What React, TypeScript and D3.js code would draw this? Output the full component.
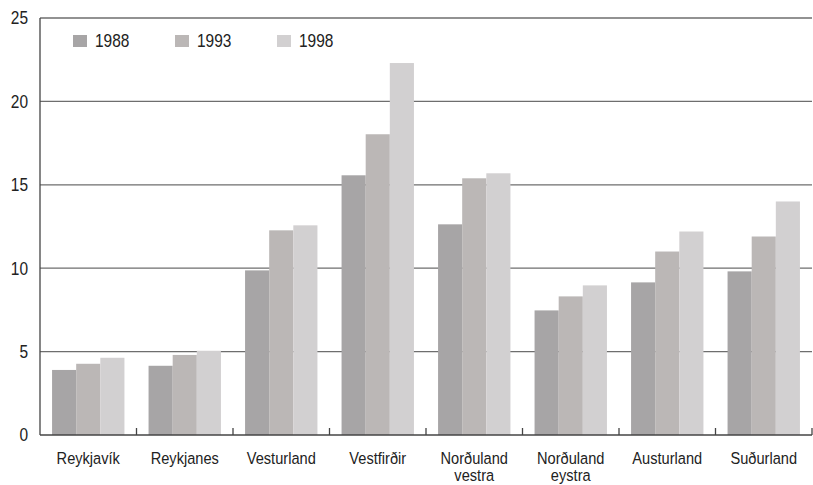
import { useMemo } from "react";
import * as d3 from "d3";

const WIDTH = 813;
const HEIGHT = 485;
const MARGIN = { top: 18, right: 1, bottom: 50, left: 40 };

const regions = [
  ["Reykjavík"],
  ["Reykjanes"],
  ["Vesturland"],
  ["Vestfirðir"],
  ["Norðuland", "vestra"],
  ["Norðuland", "eystra"],
  ["Austurland"],
  ["Suðurland"],
];
const years = ["1988", "1993", "1998"];
const values1988 = [3.9, 4.15, 9.87, 15.57, 12.63, 7.47, 9.15, 9.81];
const values1993 = [4.27, 4.8, 12.27, 18.03, 15.39, 8.31, 11.0, 11.9];
const values1998 = [4.63, 5.05, 12.57, 22.3, 15.69, 8.97, 12.2, 14.0];
const yTicks = [0, 5, 10, 15, 20, 25];

const colors = ["#a7a5a6", "#bbb7b6", "#d2d0d1"];
const FONT = "'Liberation Sans', Arial, sans-serif";
// the original type is a condensed grotesque; squeeze a regular sans to match
const SQUEEZE = 0.86;

export default function App() {
  const innerW = WIDTH - MARGIN.left - MARGIN.right;
  const innerH = HEIGHT - MARGIN.top - MARGIN.bottom;
  const series = [values1988, values1993, values1998];

  const x = useMemo(
    () =>
      d3
        .scaleBand<number>()
        .domain(d3.range(regions.length))
        .range([0, innerW])
        .paddingInner(0.25)
        .paddingOuter(0.125),
    [innerW]
  );
  const xSub = d3.scaleBand<number>().domain([0, 1, 2]).range([0, x.bandwidth()]);
  const y = d3.scaleLinear().domain([0, 25]).range([innerH, 0]);
  const step = x.step();

  return (
    <svg width={WIDTH} height={HEIGHT} style={{ position: "absolute", left: 0, top: 0, fontFamily: FONT }}>
      <g transform={`translate(${MARGIN.left},${MARGIN.top})`}>
        {yTicks.map((t) => (
          <g key={t}>
            {t > 0 && (
              <line x1={0} x2={innerW} y1={y(t)} y2={y(t)} stroke="#6e6e6e" strokeWidth={1.3} />
            )}
            <text
              transform={`translate(-12,${y(t)}) scale(${SQUEEZE},1)`}
              dy="0.36em"
              textAnchor="end"
              fontSize={18}
              fill="#222"
            >
              {t}
            </text>
          </g>
        ))}
        {series.map((vals, s) =>
          vals.map((v, i) => (
            <rect
              key={`${s}-${i}`}
              x={(x(i) ?? 0) + (xSub(s) ?? 0)}
              y={y(v)}
              width={xSub.bandwidth()}
              height={innerH - y(v)}
              fill={colors[s]}
            />
          ))
        )}
        <line x1={0} x2={0} y1={0} y2={innerH} stroke="#444" strokeWidth={1.3} />
        <line x1={0} x2={innerW} y1={innerH} y2={innerH} stroke="#444" strokeWidth={1.5} />
        {d3.range(1, regions.length + 1).map((k) => (
          <line key={k} x1={k * step} x2={k * step} y1={innerH} y2={innerH - 7} stroke="#444" strokeWidth={1.3} />
        ))}
        {regions.map((lines, i) =>
          lines.map((l, j) => (
            <text
              key={`${i}-${j}`}
              transform={`translate(${(x(i) ?? 0) + x.bandwidth() / 2},${innerH + 29 + j * 17}) scale(${SQUEEZE},1)`}
              textAnchor="middle"
              fontSize={17}
              fill="#222"
            >
              {l}
            </text>
          ))
        )}
        {years.map((yr, s) => (
          <g key={yr} transform={`translate(${33 + s * 102},17)`}>
            <rect x={0} y={0} width={14} height={12} fill={colors[s]} />
            <text transform={`translate(22,12) scale(${SQUEEZE},1)`} fontSize={18} fill="#222">
              {yr}
            </text>
          </g>
        ))}
      </g>
    </svg>
  );
}
